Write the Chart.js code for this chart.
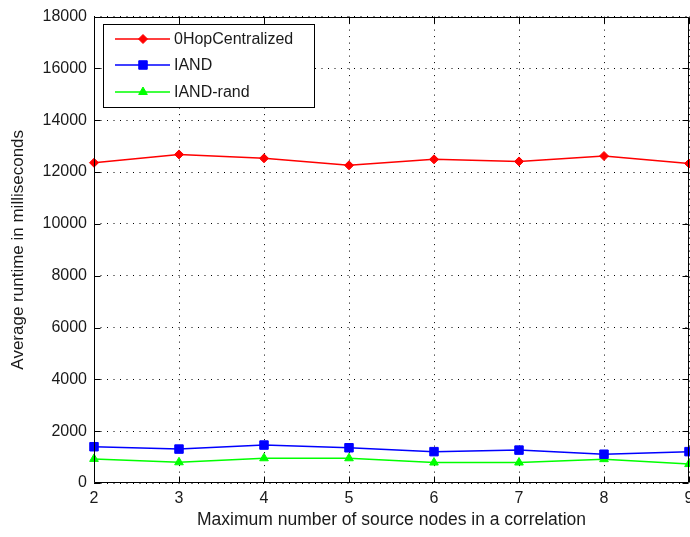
<!DOCTYPE html>
<html><head><meta charset="utf-8">
<script src="https://cdn.jsdelivr.net/npm/chart.js@4/dist/chart.umd.min.js"></script>
<style>
html,body{margin:0;padding:0;background:#fff;overflow:hidden}
#wrap{width:690px;height:537px;overflow:hidden;position:relative;background:#fff}
#wrap canvas{position:absolute;left:0;top:0}
</style></head><body>
<div id="wrap"><canvas id="c" width="740" height="537" style="width:740px;height:537px"></canvas></div>
<script>
const categories = ['2','3','4','5','6','7','8','9'];
const seriesNames = ['0HopCentralized','IAND','IAND-rand'];
const hopValues = [12360,12680,12530,12260,12490,12410,12620,12330];
const iandValues = [1400,1310,1465,1360,1210,1270,1110,1210];
const iandRandValues = [930,800,955,955,790,790,920,730];
const yTicks = [0,2000,4000,6000,8000,10000,12000,14000,16000,18000];
const xTitle = 'Maximum number of source nodes in a correlation';
const yTitle = 'Average runtime in milliseconds';

const FONT = "'Liberation Sans', Arial, sans-serif";
const TXT = '#1a1a1a';

const ds = (label, data, color, style, radius) => ({
  label, data, borderColor: color, backgroundColor: color,
  borderWidth: 1.5, pointStyle: style, pointRadius: radius, pointHoverRadius: radius,
  pointBorderWidth: 1, tension: 0, clip: false
});

const boxPlugin = {
  id: 'matlabBox',
  afterDraw(chart) {
    const ctx = chart.ctx, a = chart.chartArea;
    const xs = chart.scales.x, ys = chart.scales.y;
    const L = Math.round(a.left) + 0.5, R = Math.round(a.right) - 0.5;
    const T = Math.round(a.top) + 0.5, B = Math.round(a.bottom) - 0.5;
    ctx.save();
    ctx.strokeStyle = '#000';
    ctx.lineWidth = 1;
    ctx.setLineDash([]);
    ctx.beginPath();
    ctx.rect(L, T, R - L, B - T);
    ctx.stroke();
    const tl = 6;
    ctx.beginPath();
    yTicks.forEach(v => {
      const p = Math.round(ys.getPixelForValue(v)) + 0.5;
      ctx.moveTo(L, p); ctx.lineTo(L + tl, p);
      ctx.moveTo(R, p); ctx.lineTo(R - tl, p);
    });
    categories.forEach((c, i) => {
      const p = Math.round(xs.getPixelForValue(i)) + 0.5;
      ctx.moveTo(p, B); ctx.lineTo(p, B - tl);
      ctx.moveTo(p, T); ctx.lineTo(p, T + tl);
    });
    ctx.stroke();

    // legend
    const lx = 103.5, ly = 24.5, lw = 211, lh = 83;
    ctx.fillStyle = '#fff';
    ctx.fillRect(lx, ly, lw, lh);
    ctx.strokeStyle = '#000';
    ctx.strokeRect(lx, ly, lw, lh);
    const rows = [39, 65, 92];
    chart.data.datasets.forEach((d, i) => {
      const y = rows[i];
      ctx.strokeStyle = d.borderColor;
      ctx.lineWidth = 1.5;
      ctx.beginPath(); ctx.moveTo(115, y); ctx.lineTo(170, y); ctx.stroke();
      ctx.fillStyle = d.backgroundColor;
      ctx.lineWidth = 1;
      Chart.helpers.drawPoint(ctx, {pointStyle: d.pointStyle, radius: d.pointRadius, borderWidth: 1, rotation: 0}, 143, y);
      ctx.fillStyle = TXT;
      ctx.font = '16px ' + FONT;
      ctx.textBaseline = 'middle';
      ctx.textAlign = 'left';
      ctx.fillText(d.label, 174, y + 1);
    });
    ctx.restore();
  }
};

new Chart(document.getElementById('c'), {
  type: 'line',
  data: {
    labels: categories,
    datasets: [
      ds(seriesNames[0], hopValues, '#ff0000', 'rectRot', 4.5),
      ds(seriesNames[1], iandValues, '#0000ff', 'rect', 6),
      ds(seriesNames[2], iandRandValues, '#00ff00', 'triangle', 5)
    ]
  },
  options: {
    responsive: false,
    animation: false,
    devicePixelRatio: 1,
    layout: { padding: { left: 0, top: 14, right: 51, bottom: 0 } },
    plugins: { legend: { display: false }, tooltip: { enabled: false } },
    scales: {
      x: {
        type: 'category',
        offset: false,
        grid: { color: '#000', lineWidth: 1, drawTicks: false },
        border: { display: false, dash: [1, 5.5] },
        ticks: { color: TXT, font: { family: FONT, size: 16 }, padding: 6, maxRotation: 0, autoSkip: false },
        title: { display: true, text: xTitle, color: TXT, font: { family: FONT, size: 17.5 }, padding: { top: 0, bottom: 6 } },
        afterFit(s) { s.height = 54; }
      },
      y: {
        min: 0, max: 18000,
        afterBuildTicks(s) { s.ticks = yTicks.map(v => ({ value: v })); },
        grid: { color: '#000', lineWidth: 1, drawTicks: false },
        border: { display: false, dash: [1, 5.5] },
        ticks: { color: TXT, font: { family: FONT, size: 16 }, padding: 7, callback: v => String(v) },
        title: { display: true, text: yTitle, color: TXT, font: { family: FONT, size: 17 }, padding: { top: 8, bottom: 0 } },
        afterFit(s) { s.width = 94; }
      }
    }
  },
  plugins: [boxPlugin]
});
</script>
</body></html>
